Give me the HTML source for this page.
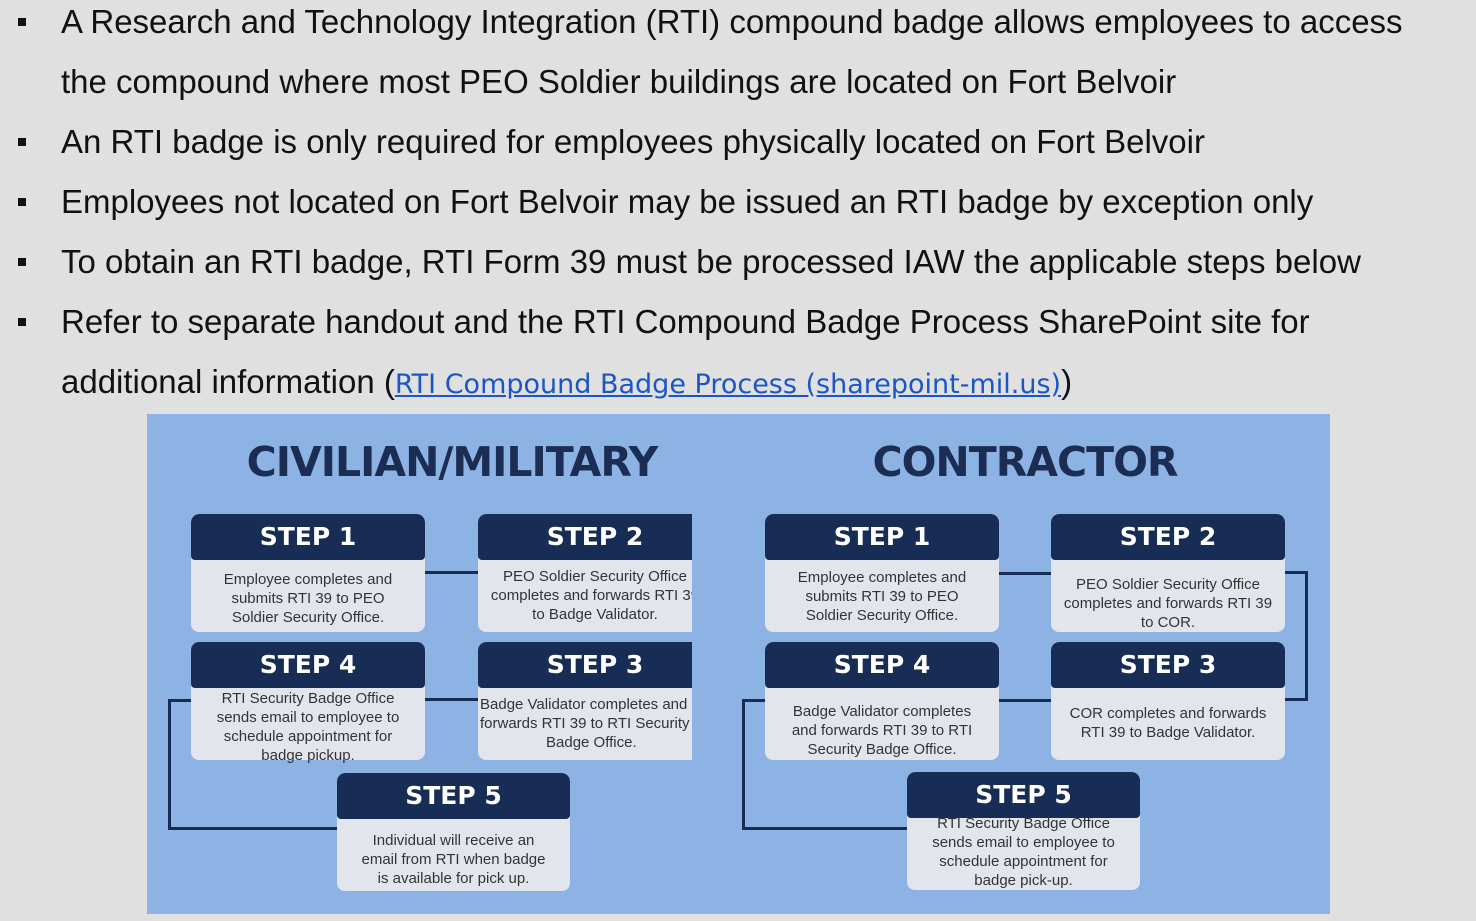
<!DOCTYPE html>
<html><head><meta charset="utf-8">
<style>
html,body{margin:0;padding:0}
body{width:1476px;height:921px;background:#e0e0e0;position:relative;overflow:hidden;font-family:"Liberation Sans",Arial,sans-serif}
.line{position:absolute;left:61px;font-size:33px;color:#111;white-space:nowrap;line-height:36px}
.bul{position:absolute;left:18px;width:8px;height:8px;background:#111}
a{color:#1a56c8;text-decoration:underline;font-family:"DejaVu Sans","Liberation Sans",sans-serif;font-size:27px}
#diagram{position:absolute;left:147px;top:414px;width:1183px;height:500px;background:#8db2e4;overflow:hidden}
.title{position:absolute;top:24px;font-family:"DejaVu Sans","Liberation Sans",sans-serif;font-weight:bold;font-size:41px;color:#1b2d52;letter-spacing:-1px;text-align:center;white-space:nowrap}
.box{position:absolute;width:234px;height:118px;background:#e2e6ec;border-radius:8px;overflow:hidden}
.hd{height:46px;background:#182d55;color:#fff;font-family:"DejaVu Sans","Liberation Sans",sans-serif;font-weight:bold;font-size:25px;text-align:center;line-height:46px;border-radius:8px 8px 4px 4px}
.bd{font-size:15px;line-height:19px;color:#333;text-align:center;white-space:nowrap;padding-top:9px}
.clip{position:absolute;overflow:hidden}
.ln{position:absolute;background:#182d55}
</style></head><body>
<div class="bul" style="top:18px"></div>
<div class="line" style="top:4px">A Research and Technology Integration (RTI) compound badge allows employees to access</div>
<div class="line" style="top:64px">the compound where most PEO Soldier buildings are located on Fort Belvoir</div>
<div class="bul" style="top:138px"></div>
<div class="line" style="top:124px">An RTI badge is only required for employees physically located on Fort Belvoir</div>
<div class="bul" style="top:198px"></div>
<div class="line" style="top:184px">Employees not located on Fort Belvoir may be issued an RTI badge by exception only</div>
<div class="bul" style="top:258px"></div>
<div class="line" style="top:244px">To obtain an RTI badge, RTI Form 39 must be processed IAW the applicable steps below</div>
<div class="bul" style="top:318px"></div>
<div class="line" style="top:304px">Refer to separate handout and the RTI Compound Badge Process SharePoint site for</div>
<div class="line" style="top:364px">additional information (<a href="#">RTI Compound Badge Process (sharepoint-mil.us)</a>)</div>

<div id="diagram">
  <div class="title" style="left:0;width:610px">CIVILIAN/MILITARY</div>
  <div class="title" style="left:590px;width:576px">CONTRACTOR</div>

  <div class="ln" style="left:278px;top:157px;width:53px;height:3px"></div>
  <div class="ln" style="left:278px;top:284px;width:53px;height:3px"></div>
  <div class="ln" style="left:21px;top:285px;width:3px;height:131px"></div>
  <div class="ln" style="left:21px;top:285px;width:24px;height:3px"></div>
  <div class="ln" style="left:21px;top:413px;width:170px;height:3px"></div>

  <div class="ln" style="left:851px;top:158px;width:53px;height:3px"></div>
  <div class="ln" style="left:851px;top:285px;width:53px;height:3px"></div>
  <div class="ln" style="left:1158px;top:157px;width:3px;height:130px"></div>
  <div class="ln" style="left:1138px;top:157px;width:23px;height:3px"></div>
  <div class="ln" style="left:1138px;top:284px;width:23px;height:3px"></div>
  <div class="ln" style="left:595px;top:285px;width:3px;height:131px"></div>
  <div class="ln" style="left:595px;top:285px;width:24px;height:3px"></div>
  <div class="ln" style="left:595px;top:413px;width:170px;height:3px"></div>

  <div class="box" style="left:44px;top:100px"><div class="hd">STEP 1</div><div class="bd" style="padding-top:10px">Employee completes and<br>submits RTI 39 to PEO<br>Soldier Security Office.</div></div>
  <div class="clip" style="left:331px;top:100px;width:214px;height:118px"><div class="box" style="left:0;top:0"><div class="hd">STEP 2</div><div class="bd" style="padding-top:7px">PEO Soldier Security Office<br>completes and forwards RTI 39<br>to Badge Validator.</div></div></div>
  <div class="box" style="left:44px;top:228px;overflow:visible"><div class="hd">STEP 4</div><div class="bd" style="padding-top:1px">RTI Security Badge Office<br>sends email to employee to<br>schedule appointment for<br>badge pickup.</div></div>
  <div class="clip" style="left:331px;top:228px;width:214px;height:118px"><div class="box" style="left:0;top:0"><div class="hd">STEP 3</div><div class="bd" style="padding-top:7px;text-align:left;padding-left:2px">Badge Validator completes and<br>forwards RTI 39 to RTI Security<br><span style="padding-left:66px">Badge Office.</span></div></div></div>
  <div class="box" style="left:190px;top:359px;width:233px"><div class="hd">STEP 5</div><div class="bd" style="padding-top:12px">Individual will receive an<br>email from RTI when badge<br>is available for pick up.</div></div>

  <div class="box" style="left:618px;top:100px"><div class="hd">STEP 1</div><div class="bd" style="padding-top:8px">Employee completes and<br>submits RTI 39 to PEO<br>Soldier Security Office.</div></div>
  <div class="box" style="left:904px;top:100px"><div class="hd">STEP 2</div><div class="bd" style="padding-top:15px">PEO Soldier Security Office<br>completes and forwards RTI 39<br>to COR.</div></div>
  <div class="box" style="left:618px;top:228px"><div class="hd">STEP 4</div><div class="bd" style="padding-top:14px">Badge Validator completes<br>and forwards RTI 39 to RTI<br>Security Badge Office.</div></div>
  <div class="box" style="left:904px;top:228px"><div class="hd">STEP 3</div><div class="bd" style="padding-top:16px">COR completes and forwards<br>RTI 39 to Badge Validator.</div></div>
  <div class="box" style="left:760px;top:358px;width:233px"><div class="hd">STEP 5</div><div class="bd" style="padding-top:0px;margin-top:-4px">RTI Security Badge Office<br>sends email to employee to<br>schedule appointment for<br>badge pick-up.</div></div>
</div>
</body></html>
